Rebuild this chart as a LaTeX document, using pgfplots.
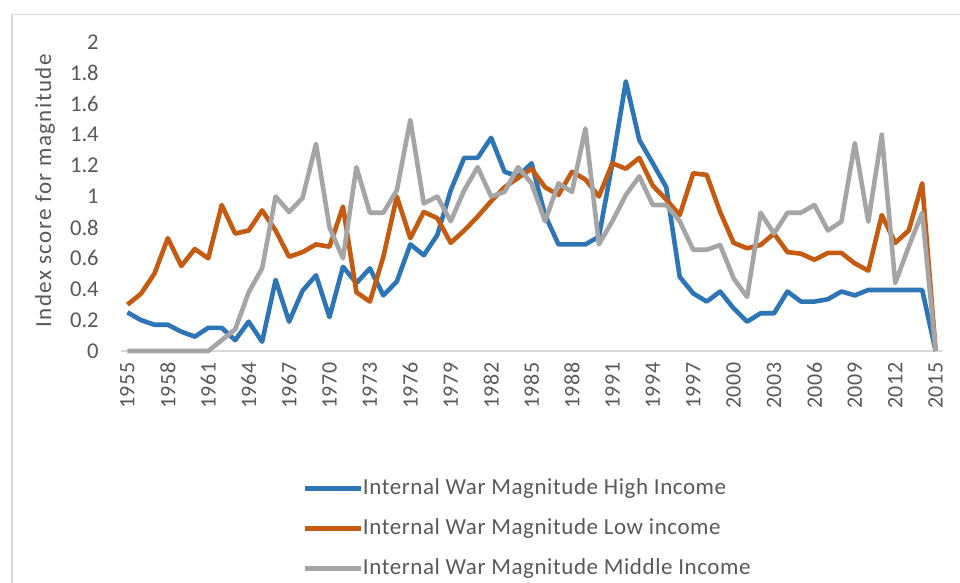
\documentclass[border=0pt]{standalone}
\usepackage{pgfplots}
\pgfplotsset{compat=1.18}
\usepackage{pgfplotstable}
\usepackage{fontspec}
\setmainfont{Carlito}
\definecolor{cHigh}{HTML}{2E75B6}
\definecolor{cLow}{HTML}{C55A11}
\definecolor{cMid}{HTML}{A5A5A5}
\definecolor{txt}{HTML}{595959}
\definecolor{axl}{HTML}{D9D9D9}
\pgfplotstableread{
year high low mid
1955 0.25 0.30 0
1956 0.20 0.37 0
1957 0.17 0.50 0
1958 0.17 0.73 0
1959 0.125 0.55 0
1960 0.093 0.66 0
1961 0.15 0.60 0
1962 0.15 0.945 0.07
1963 0.07 0.76 0.14
1964 0.19 0.78 0.38
1965 0.06 0.91 0.535
1966 0.46 0.78 1.0
1967 0.19 0.61 0.90
1968 0.39 0.64 0.99
1969 0.49 0.69 1.34
1970 0.22 0.675 0.80
1971 0.545 0.935 0.60
1972 0.44 0.38 1.19
1973 0.535 0.32 0.895
1974 0.36 0.61 0.895
1975 0.45 1.0 1.04
1976 0.69 0.73 1.495
1977 0.62 0.90 0.955
1978 0.75 0.86 1.0
1979 1.04 0.70 0.84
1980 1.25 0.78 1.04
1981 1.25 0.87 1.19
1982 1.38 0.97 1.0
1983 1.16 1.06 1.03
1984 1.13 1.12 1.19
1985 1.215 1.18 1.085
1986 0.88 1.06 0.84
1987 0.69 1.01 1.085
1988 0.69 1.16 1.03
1989 0.69 1.11 1.44
1990 0.74 1.0 0.69
1991 1.215 1.215 0.84
1992 1.745 1.18 1.01
1993 1.366 1.25 1.13
1994 1.215 1.07 0.945
1995 1.06 0.98 0.945
1996 0.48 0.88 0.84
1997 0.373 1.15 0.655
1998 0.32 1.14 0.655
1999 0.385 0.90 0.686
2000 0.276 0.70 0.47
2001 0.19 0.665 0.35
2002 0.244 0.686 0.895
2003 0.244 0.76 0.76
2004 0.385 0.64 0.895
2005 0.32 0.63 0.895
2006 0.32 0.59 0.945
2007 0.335 0.635 0.78
2008 0.385 0.635 0.837
2009 0.36 0.567 1.345
2010 0.395 0.52 0.837
2011 0.395 0.88 1.40
2012 0.395 0.70 0.44
2013 0.395 0.78 0.675
2014 0.395 1.085 0.895
2015 0 0 0
}\datatable
\begin{document}
\begin{tikzpicture}
\useasboundingbox (0,0) rectangle (480pt,291.5pt);
\fill[white] (0,0) rectangle (480pt,291.5pt);
\draw[axl, line width=0.7pt] (6pt,0pt) -- (6pt,284.3pt) -- (480pt,284.3pt);
\begin{axis}[
  at={(60.35pt,116pt)}, anchor=south west,
  scale only axis, width=410.85pt, height=154.5pt,
  xmin=1954.5, xmax=2015.5, ymin=0, ymax=2,
  axis lines*=left,
  x axis line style={draw=axl, line width=0.75pt},
  y axis line style={draw=none},
  tick style={draw=none},
  xtick={1955,1958,...,2015},
  ytick={0,0.2,...,2.01},
  yticklabels={0,0.2,0.4,0.6,0.8,1,1.2,1.4,1.6,1.8,2},
  /pgf/number format/assume math mode=true,
  xticklabel style={/pgf/number format/1000 sep={}, yshift=-5.5pt, rotate=90, anchor=east, inner sep=0pt, font=\fontsize{11}{12}\selectfont\addfontfeatures{LetterSpace=3}, text=txt},
  yticklabel style={anchor=east, inner sep=0pt, xshift=-10.8pt, font=\fontsize{11.3}{12}\selectfont, text=txt},
  clip=false,
  legend cell align=left,
  legend style={at={(axis description cs:0.2206,-0.404)}, anchor=north west, draw=none, fill=none,
    inner sep=0pt, row sep=8pt, font=\fontsize{11.5}{13}\selectfont\addfontfeatures{LetterSpace=2.5}, text=txt,
    nodes={inner sep=0pt, text height=9pt, text depth=3pt}},
  legend image code/.code={\draw[#1, line width=2.3pt] (0pt,0pt) -- (28pt,0pt);},
  /tikz/every even column/.append style={column sep=2pt},
  every axis plot/.append style={line width=2.3pt, line join=round, no markers},
]
\addplot[cHigh] table[x=year, y=high] {\datatable};
\addlegendentry{Internal War Magnitude High Income}
\addplot[cLow] table[x=year, y=low] {\datatable};
\addlegendentry{Internal War Magnitude Low income}
\addplot[cMid] table[x=year, y=mid] {\datatable};
\addlegendentry{Internal War Magnitude Middle Income}
\end{axis}
\node[rotate=90, text=txt, font=\fontsize{11.5}{13}\selectfont\addfontfeatures{LetterSpace=6}, inner sep=0pt] at (22.5pt,196pt) {Index score for magnitude};
\end{tikzpicture}
\end{document}
